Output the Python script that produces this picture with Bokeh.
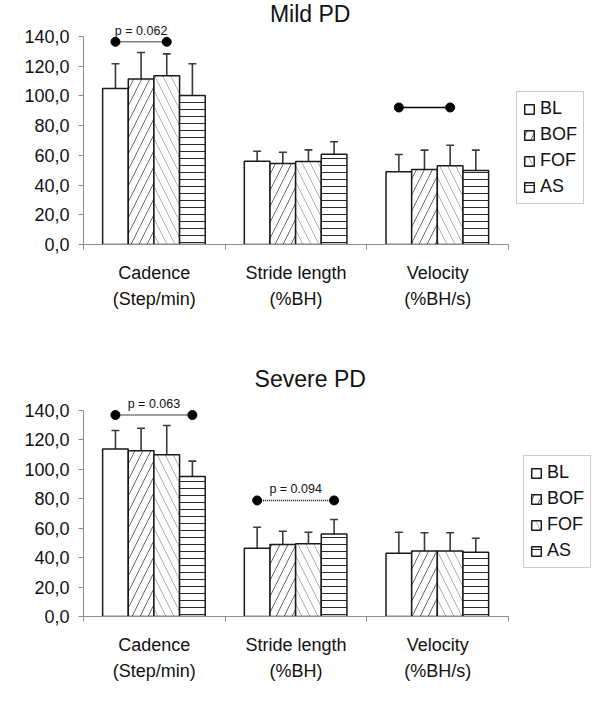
from bokeh.plotting import figure
from bokeh.models import FixedTicker, Range1d, Legend, LegendItem, ColumnDataSource
from bokeh.layouts import column
from bokeh.core.properties import value
from bokeh.embed import file_html
from bokeh.resources import INLINE

# ---------------- data ----------------
categories = ["Cadence\n(Step/min)", "Stride length\n(%BH)", "Velocity\n(%BH/s)"]
series = ["BL", "BOF", "FOF", "AS"]

mild_BL = [105.0, 56.0, 48.9]
mild_BOF = [111.3, 54.5, 50.5]
mild_FOF = [113.5, 55.8, 53.0]
mild_AS = [100.3, 60.8, 49.8]
mild_BL_sd = [16.6, 6.8, 11.7]
mild_BOF_sd = [17.9, 7.6, 13.0]
mild_FOF_sd = [14.8, 7.9, 13.8]
mild_AS_sd = [21.3, 8.3, 13.7]

severe_BL = [113.8, 46.4, 43.0]
severe_BOF = [112.6, 48.9, 44.6]
severe_FOF = [110.0, 49.4, 44.6]
severe_AS = [95.2, 56.0, 43.7]
severe_BL_sd = [12.6, 14.3, 14.3]
severe_BOF_sd = [15.4, 9.1, 12.3]
severe_FOF_sd = [19.8, 7.9, 12.3]
severe_AS_sd = [10.4, 9.9, 9.5]

# significance brackets: (category index, series a, series b, bracket level, label, dashed)
mild_sig = [(0, 0, 2, 136.4, "p = 0.062", True), (2, 0, 2, 92.2, "", False)]
severe_sig = [(0, 0, 3, 137.0, "p = 0.063", True), (1, 0, 3, 78.9, "p = 0.094", True)]

y_ticks = [0, 20, 40, 60, 80, 100, 120, 140]

FONT = "Liberation Sans"
FIG_W = 596
BORDER_L = 83
PX_X = 141.7

hatch = {
    "BL": dict(hatch_pattern=" ", hatch_color="#000000"),
    "BOF": dict(hatch_pattern="/", hatch_color="#666666", hatch_scale=16, hatch_weight=1),
    "FOF": dict(hatch_pattern="\\", hatch_color="#b0b0b0", hatch_scale=16, hatch_weight=1),
    "AS": dict(hatch_pattern="-", hatch_color="#2a2a2a", hatch_scale=7, hatch_weight=1),
}

BAR_W = 0.181
BAR_START = 0.135


def make_panel(title, means, sds, sigs, height, border_bottom, px_y, title_y,
               legend_loc, label_standoff):
    y_end = (height - border_bottom) / px_y
    x_end = (FIG_W - BORDER_L) / PX_X
    p = figure(width=FIG_W, height=height, output_backend="svg", toolbar_location=None,
               x_range=Range1d(0, x_end), y_range=Range1d(0, y_end),
               min_border_left=BORDER_L, min_border_bottom=border_bottom,
               min_border_top=0, min_border_right=0)
    p.outline_line_color = None
    p.xgrid.visible = False
    p.ygrid.visible = False
    p.background_fill_color = "white"

    # y axis
    ya = p.yaxis[0]
    ya.ticker = FixedTicker(ticks=y_ticks, minor_ticks=[])
    ya.major_label_overrides = {t: f"{t:.1f}".replace(".", ",") for t in y_ticks}
    ya.bounds = (0, 140)
    ya.axis_line_color = "#8c8c8c"
    ya.major_tick_line_color = "#8c8c8c"
    ya.major_tick_in = 0
    ya.major_tick_out = 5
    ya.major_label_standoff = 9
    ya.major_label_text_font = FONT
    ya.major_label_text_font_size = "18px"
    ya.major_label_text_color = "#111111"

    # x axis
    xa = p.xaxis[0]
    xa.ticker = FixedTicker(ticks=[i + 0.5 for i in range(len(categories))],
                            minor_ticks=list(range(len(categories) + 1)))
    xa.major_label_overrides = {i + 0.5: c for i, c in enumerate(categories)}
    xa.bounds = (0, len(categories))
    xa.axis_line_color = "#8c8c8c"
    xa.major_tick_line_color = None
    xa.major_tick_in = 0
    xa.major_tick_out = 0
    xa.minor_tick_line_color = "#8c8c8c"
    xa.minor_tick_in = 0
    xa.minor_tick_out = 5
    xa.major_label_standoff = label_standoff
    xa.major_label_text_font = FONT
    xa.major_label_text_font_size = "18px"
    xa.major_label_text_color = "#111111"
    xa.major_label_text_line_height = 1.3

    items = []
    centers = {}
    for k, s in enumerate(series):
        xs = [i + BAR_START + BAR_W / 2 + k * BAR_W for i in range(len(categories))]
        centers[k] = xs
        top = means[s]
        sd = sds[s]
        src = ColumnDataSource(dict(x=xs, top=top, err=[t + d for t, d in zip(top, sd)],
                                    x0=[x - 0.028 for x in xs], x1=[x + 0.028 for x in xs]))
        p.segment(x0="x", y0="top", x1="x", y1="err", source=src,
                  line_color="#3a3a3a", line_width=1.6)
        p.segment(x0="x0", y0="err", x1="x1", y1="err", source=src,
                  line_color="#3a3a3a", line_width=1.6)
        r = p.vbar(x="x", top="top", width=BAR_W, bottom=0, source=src,
                   fill_color="white", line_color="#1a1a1a", line_width=1.5, **hatch[s])
        items.append(LegendItem(label=s, renderers=[r]))

    # significance brackets
    for (ci, a, b, lvl, lab, dashed) in sigs:
        xa_, xb_ = centers[a][ci], centers[b][ci]
        p.line([xa_, xb_], [lvl, lvl], line_color="black", line_width=1.6,
               line_dash="1 1" if dashed else "solid")
        p.scatter([xa_, xb_], [lvl, lvl], size=9, color="black")
        if lab:
            p.text(x=[(xa_ + xb_) / 2], y=[lvl], text=[lab], text_align="center",
                   text_baseline="bottom", y_offset=-4, text_font=value(FONT),
                   text_font_size="12.5px", text_color="#111111")

    # title
    p.text(x=[1.6], y=[title_y], text=[title], text_align="center",
           text_baseline="alphabetic", text_font=value(FONT), text_font_size="23px",
           text_color="#111111")

    leg = Legend(items=items, location=legend_loc)
    leg.border_line_color = "#999999"
    leg.border_line_width = 1
    leg.padding = 6
    leg.spacing = 5
    leg.margin = 0
    leg.glyph_width = 12
    leg.glyph_height = 12
    leg.label_height = 20
    leg.label_standoff = 5
    leg.label_text_font = FONT
    leg.label_text_font_size = "18px"
    leg.label_text_color = "#111111"
    p.add_layout(leg)
    return p


mild_means = dict(BL=mild_BL, BOF=mild_BOF, FOF=mild_FOF, AS=mild_AS)
mild_sds = dict(BL=mild_BL_sd, BOF=mild_BOF_sd, FOF=mild_FOF_sd, AS=mild_AS_sd)
severe_means = dict(BL=severe_BL, BOF=severe_BOF, FOF=severe_FOF, AS=severe_AS)
severe_sds = dict(BL=severe_BL_sd, BOF=severe_BOF_sd, FOF=severe_FOF_sd, AS=severe_AS_sd)

p1 = make_panel("Mild PD", mild_means, mild_sds, mild_sig, 358, 114, 1.486,
                155.0, (433, 40), 13)
p2 = make_panel("Severe PD", severe_means, severe_sds, severe_sig, 350, 92, 1.471,
                161.6, (440, 48), 13)

layout = column(p1, p2, spacing=0)
open("out.html", "w").write(file_html(layout, INLINE))
